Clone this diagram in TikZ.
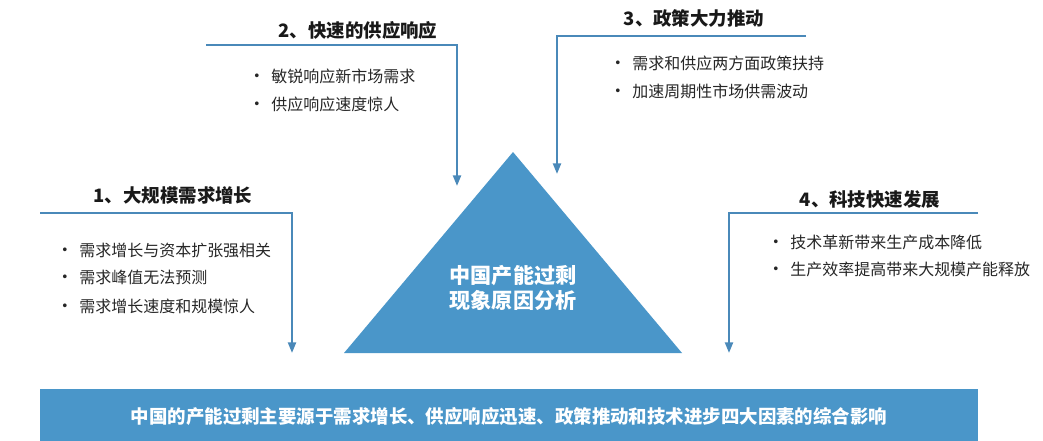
\documentclass[tikz,border=0pt]{standalone}
\usepackage{fontspec}
\setmainfont{Noto Sans CJK SC}
\usepackage{xcolor}
\usepackage{tikz}
\usetikzlibrary{positioning,arrows.meta}
\definecolor{lineblue}{HTML}{4A89B9}
\definecolor{fillblue}{HTML}{4A96C9}
\newcommand{\dotitem}[1]{\makebox[0.46cm][l]{\fontsize{10}{10}\selectfont\textbullet}#1}

\begin{document}
\begin{tikzpicture}[
    x=0.02cm,y=-0.02cm,
    title/.style={font=\fontsize{10.5}{12}\selectfont\bfseries,text=black!90,inner sep=0pt},
    item/.style={anchor=west,font=\fontsize{9.1}{11}\selectfont,text=black!85,inner sep=0pt},
    link/.style={draw=lineblue,line width=1.2pt,-{Triangle[length=6pt,width=4.5pt]}},
    banner/.style={fill=fillblue,minimum width=18.76cm,minimum height=1.1cm,inner sep=0pt,
                  text=white,font=\fontsize{10.5}{12}\selectfont\bfseries}
]
\useasboundingbox (0,0) rectangle (1043,440);

% centre triangle
\fill[fillblue] (344,353) -- (513,152) -- (682,353) -- cycle;
\node[text=white,font=\fontsize{12}{14.5}\selectfont\bfseries,align=center] (core) at (513,288)
     {中国产能过剩\\现象原因分析};

% four factors
\node[title] (t1) at (173,195) {1、大规模需求增长};
\node[title] (t2) at (358,30)  {2、快速的供应响应};
\node[title] (t3) at (694,18)  {3、政策大力推动};
\node[title] (t4) at (870,199) {4、科技快速发展};

\coordinate (s1) at (40,213);  \coordinate (e1) at (292,353);
\coordinate (s2) at (206,45);  \coordinate (e2) at (457,186);
\coordinate (s3) at (806,36);  \coordinate (e3) at (557,174);
\coordinate (s4) at (978,213); \coordinate (e4) at (729,353);

\draw[link] (s1) -| (e1);
\draw[link] (s2) -| (e2);
\draw[link] (s3) -| (e3);
\draw[link] (s4) -| (e4);

\node[item] (b11) at (56,250) {\dotitem{需求增长与资本扩张强相关}};
\node[item] (b12) at (56,277) {\dotitem{需求峰值无法预测}};
\node[item] (b13) at (56,306) {\dotitem{需求增长速度和规模惊人}};

\node[item] (b21) at (248,76)  {\dotitem{敏锐响应新市场需求}};
\node[item] (b22) at (248,104) {\dotitem{供应响应速度惊人}};

\node[item] (b31) at (609,63) {\dotitem{需求和供应两方面政策扶持}};
\node[item] (b32) at (609,91) {\dotitem{加速周期性市场供需波动}};

\node[item] (b41) at (767,242) {\dotitem{技术革新带来生产成本降低}};
\node[item] (b42) at (767,269) {\dotitem{生产效率提高带来大规模产能释放}};

% conclusion bar
\node[banner] (sum) at (509,416)
     {中国的产能过剩主要源于需求增长、供应响应迅速、政策推动和技术进步四大因素的综合影响};
\end{tikzpicture}
\end{document}
